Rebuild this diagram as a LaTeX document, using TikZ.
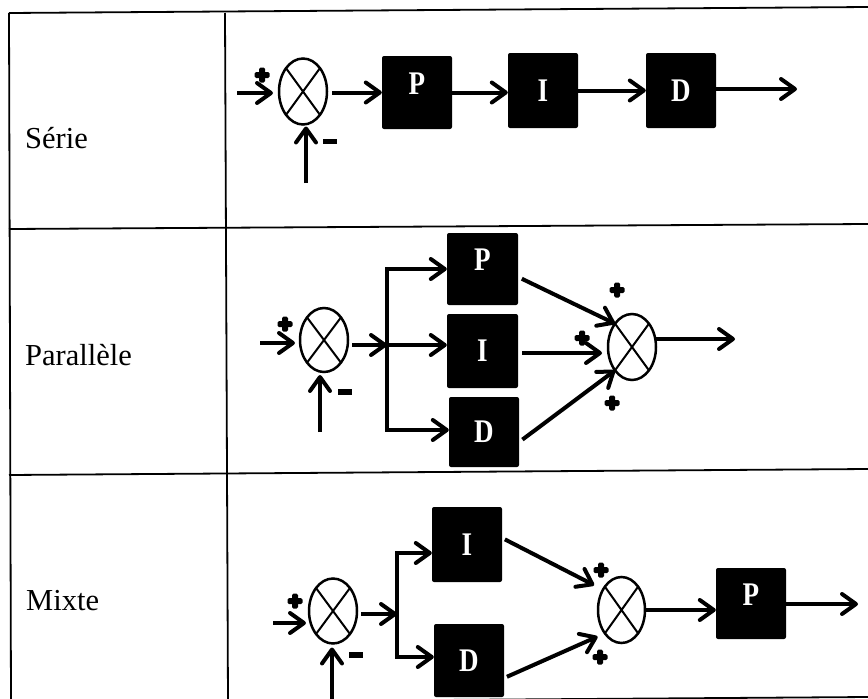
\documentclass[tikz,border=0pt]{standalone}
\usepackage{fontspec}
\setmainfont{Liberation Serif}
\usetikzlibrary{arrows.meta,shapes.geometric}
\newcommand{\narrowL}[1]{\scalebox{0.82}[1]{#1}}
\begin{document}
\begin{tikzpicture}[x=1pt,y=-1pt,
 tbl/.style={line width=1.8pt},
 lbl/.style={anchor=base west, inner sep=0pt, font=\fontsize{30.5}{31}\selectfont},
 blk/.style={fill=black, rounded corners=2pt, minimum width=70pt, minimum height=73pt, inner sep=0pt},
 lett/.style={text=white, inner sep=0pt, font=\fontsize{33}{33}\selectfont\bfseries},
 sum/.style={ellipse, draw, line width=2.5pt, minimum width=48pt, minimum height=66pt, inner sep=0pt, outer sep=0pt},
 xl/.style={line width=2pt},
 arr/.style={line width=4pt, -{Straight Barb[length=14pt,width=20pt,round]}},
 minussign/.style={fill=black, minimum width=14pt, minimum height=5.5pt, inner sep=0pt},
 plussign/.style={minimum size=16pt, inner sep=0pt, path picture={
   \fill[rounded corners=1.5pt] ([shift={(-7.5pt,-3pt)}]path picture bounding box.center) rectangle ([shift={(7.5pt,3pt)}]path picture bounding box.center);
   \fill[rounded corners=1.5pt] ([shift={(-3pt,-7.5pt)}]path picture bounding box.center) rectangle ([shift={(3pt,7.5pt)}]path picture bounding box.center);}},
]
\useasboundingbox (0,0) rectangle (868,699);
\clip (0,0) rectangle (868,699);
\fill[white] (0,0) rectangle (868,699);

% table
\draw[tbl] (9,13) -- (868,7);
\draw[tbl] (9,229) -- (868,224);
\draw[tbl] (9,475) -- (868,469);
\draw[tbl] (9,703) -- (868,697);
\draw[tbl] (9,13) -- (11,702);
\draw[tbl] (225,13) -- (228,702);

\node[lbl] (t1) at (25,148) {Série};
\node[lbl] (t2) at (25,365) {Parallèle};
\node[lbl] (t3) at (26,610) {Mixte};

% ---------- Serie ----------
\node[sum] (sA) at (303,91.5) {};
\node[blk, label={[lett,yshift=9pt]center:\narrowL{P}}] (P1) at (417,92.5) {};
\node[blk, minimum height=75pt, label={[lett]center:\narrowL{I}}] (I1) at (543,90.5) {};
\node[blk, minimum height=75pt, label={[lett]center:\narrowL{D}}] (D1) at (681,90.5) {};
\coordinate (in1) at (237,93);
\coordinate (out1) at (797,89);
\coordinate (fb1) at (306,183);
\node[plussign] (pa1) at (262,75) {};
\node[minussign] (ma1) at (330,141.5) {};
\draw[arr, shorten >=6pt] (in1) -- (in1 -| sA.west);
\draw[arr, shorten <=5pt] (sA.east |- P1.west) -- (P1.west);
\draw[arr] (P1.east) -- (P1.east -| I1.west);
\draw[arr] (I1.east) -- (I1.east -| D1.west);
\draw[arr] (D1.east |- out1) -- (out1);
\draw[arr, shorten >=2pt] (fb1) -- (fb1 |- sA.south);

% ---------- Parallele ----------
\node[sum, minimum height=64pt] (sB) at (324,340) {};
\coordinate (in2) at (260,343);
\node[plussign] (pb1) at (285,324) {};
\node[minussign] (mb1) at (345,392) {};
\coordinate (fb2) at (320,432);
\coordinate (j2) at (387,345);
\node[blk, minimum width=71pt, minimum height=72pt, label={[lett,yshift=9pt]center:\narrowL{P}}] (P2) at (482.5,269) {};
\node[blk, minimum width=71pt, minimum height=74pt, label={[lett]center:\narrowL{I}}] (I2) at (482.5,351) {};
\node[blk, minimum height=70pt, label={[lett]center:\narrowL{D}}] (D2) at (484,432) {};
\node[sum] (sC) at (632,347) {};
\coordinate (out2) at (735,339);
\node[plussign] (pb2) at (617,290) {};
\node[plussign] (pb3) at (582,338) {};
\node[plussign] (pb4) at (612,403) {};
\draw[arr, shorten >=5pt] (in2) -- (in2 -| sB.west);
\draw[arr, shorten <=4pt] (sB.east |- j2) -- (j2);
\draw[arr] (j2) |- (P2.west);
\draw[arr] (j2) |- ([yshift=2pt]D2.west);
\draw[arr] (j2) -- (j2 -| I2.west);
\draw[arr, shorten <=4pt] ([yshift=-8pt]P2.east) -- (sC.north west);
\draw[arr, shorten <=4pt, shorten >=6pt] ([yshift=-2pt]I2.east) -- ([yshift=-2pt]I2.east -| sC.west);
\draw[arr, shorten <=4pt] ([yshift=-10pt]D2.east) -- (sC.south west);
\draw[arr] (sC.east |- out2) -- (out2);
\draw[arr, shorten >=3pt] (fb2) -- (fb2 |- sB.south);

% ---------- Mixte ----------
\node[sum, minimum height=65pt] (sD) at (333,611) {};
\coordinate (in3) at (273,623);
\node[plussign] (pc1) at (295,601) {};
\node[minussign] (mc1) at (356,655) {};
\coordinate (fb3) at (332,705);
\coordinate (j3) at (397,614);
\node[blk, minimum height=75pt, label={[lett]center:\narrowL{I}}] (I3) at (467,544.5) {};
\node[blk, label={[lett]center:\narrowL{D}}] (D3) at (469,660.5) {};
\node[sum, minimum width=47pt] (sE) at (621.5,610) {};
\node[blk, minimum height=71pt, label={[lett,yshift=9pt]center:\narrowL{P}}] (P3) at (751,603.5) {};
\coordinate (out3) at (858,604);
\node[plussign] (pc2) at (601,570) {};
\node[plussign] (pc3) at (600,657) {};
\draw[arr, shorten >=3pt] (in3) -- (in3 -| sD.west);
\draw[arr, shorten <=4pt] (sD.east |- j3) -- (j3);
\draw[arr] (j3) |- ([yshift=-8.5pt]I3.west);
\draw[arr] (j3) |- ([yshift=3.5pt]D3.west);
\draw[arr, shorten <=3pt, shorten >=12pt] ([yshift=6.5pt]I3.east) -- ([yshift=-4pt]sE.north west);
\draw[arr, shorten <=3pt, shorten >=8pt] ([yshift=-17.5pt]D3.east) -- (sE.south west);
\draw[arr] (sE.east) -- (sE.east -| P3.west);
\draw[arr] (P3.east |- out3) -- (out3);
\draw[arr, shorten >=4pt] (fb3) -- (fb3 |- sD.south);

% crosses in summing junctions
\foreach \s in {sA,sB,sC,sD,sE}
  \draw[xl] (\s.north west) -- (\s.south east) (\s.north east) -- (\s.south west);
\end{tikzpicture}
\end{document}
